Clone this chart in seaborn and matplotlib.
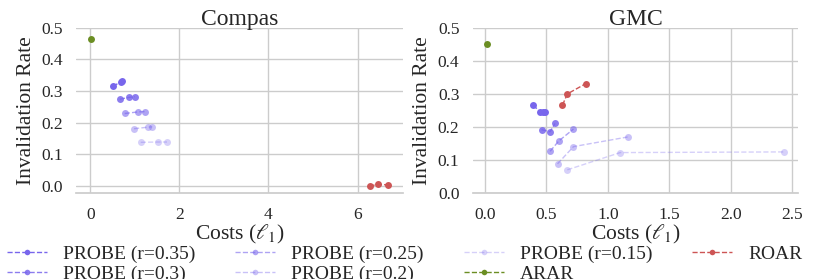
import numpy as np
import pandas as pd
import matplotlib
matplotlib.use("Agg")
import matplotlib.pyplot as plt
import seaborn as sns

# valores (custo l1, taxa de invalidação)
compas_probe_035_x = [0.50, 0.68, 0.72]
compas_probe_035_y = [0.316, 0.327, 0.332]
compas_probe_03_x = [0.66, 0.87, 1.00]
compas_probe_03_y = [0.274, 0.280, 0.282]
compas_probe_025_x = [0.77, 1.07, 1.23]
compas_probe_025_y = [0.229, 0.234, 0.235]
compas_probe_02_x = [0.98, 1.30, 1.39]
compas_probe_02_y = [0.181, 0.186, 0.187]
compas_probe_015_x = [1.13, 1.52, 1.72]
compas_probe_015_y = [0.138, 0.139, 0.139]
compas_roar_x = [6.27, 6.45, 6.68]
compas_roar_y = [0.000, 0.005, 0.004]
compas_arar_x = [0.01, 0.01, 0.01]
compas_arar_y = [0.462, 0.465, 0.467]

gmc_probe_035_x = [0.39, 0.45, 0.47, 0.49]
gmc_probe_035_y = [0.266, 0.246, 0.245, 0.244]
gmc_probe_03_x = [0.46, 0.53, 0.57]
gmc_probe_03_y = [0.192, 0.186, 0.211]
gmc_probe_025_x = [0.53, 0.60, 0.72]
gmc_probe_025_y = [0.127, 0.158, 0.194]
gmc_probe_02_x = [0.59, 0.72, 1.16]
gmc_probe_02_y = [0.089, 0.141, 0.170]
gmc_probe_015_x = [0.67, 1.10, 2.43]
gmc_probe_015_y = [0.071, 0.123, 0.125]
gmc_roar_x = [0.63, 0.67, 0.82]
gmc_roar_y = [0.266, 0.300, 0.331]
gmc_arar_x = [0.02, 0.02, 0.02, 0.02]
gmc_arar_y = [0.440, 0.448, 0.456, 0.463]

labels = ['PROBE (r=0.35)', 'PROBE (r=0.3)', 'PROBE (r=0.25)',
          'PROBE (r=0.2)', 'PROBE (r=0.15)', 'ARAR', 'ROAR']

probe_color = '#7866ec'
roar_color = '#cd5555'
arar_color = '#6b8e23'
probe_alphas = [1.0, 0.85, 0.6, 0.4, 0.3]

compas = [
    (compas_probe_035_x, compas_probe_035_y),
    (compas_probe_03_x, compas_probe_03_y),
    (compas_probe_025_x, compas_probe_025_y),
    (compas_probe_02_x, compas_probe_02_y),
    (compas_probe_015_x, compas_probe_015_y),
    (compas_arar_x, compas_arar_y),
    (compas_roar_x, compas_roar_y),
]
gmc = [
    (gmc_probe_035_x, gmc_probe_035_y),
    (gmc_probe_03_x, gmc_probe_03_y),
    (gmc_probe_025_x, gmc_probe_025_y),
    (gmc_probe_02_x, gmc_probe_02_y),
    (gmc_probe_015_x, gmc_probe_015_y),
    (gmc_arar_x, gmc_arar_y),
    (gmc_roar_x, gmc_roar_y),
]

sns.set_theme(style='whitegrid')
plt.rcParams['font.family'] = ['Liberation Serif', 'DejaVu Serif']
plt.rcParams['mathtext.fontset'] = 'stix'

fig = plt.figure(figsize=(8.31, 2.79), dpi=100)
ax1 = fig.add_axes([0.0915, 0.307, 0.393, 0.594])
ax2 = fig.add_axes([0.5688, 0.307, 0.392, 0.594])


def desenhar(ax, dados, titulo):
    for i, (xs, ys) in enumerate(dados):
        if i < 5:
            cor, alfa = probe_color, probe_alphas[i]
        elif labels[i] == 'ARAR':
            cor, alfa = arar_color, 1.0
        else:
            cor, alfa = roar_color, 1.0
        df = pd.DataFrame({'x': xs, 'y': ys})
        sns.lineplot(data=df, x='x', y='y', sort=False, ax=ax, color=cor,
                     alpha=alfa, linestyle='--', marker='o', markersize=5,
                     markeredgewidth=0, linewidth=1.0, label=labels[i],
                     legend=False)
    ax.set_title(titulo, fontsize=17, pad=2)
    ax.set_xlabel(r'Costs ($\ell_1$)', fontsize=15.5, labelpad=0)
    ax.set_ylabel('Invalidation Rate', fontsize=15.5, labelpad=4)
    ax.tick_params(labelsize=12.5, pad=3.5)
    ax.set_yticks([0.0, 0.1, 0.2, 0.3, 0.4, 0.5])
    sns.despine(ax=ax, left=True)


desenhar(ax1, compas, 'Compas')
ax1.set_xticks([0, 2, 4, 6])
ax1.set_ylim(-0.023, 0.5)

desenhar(ax2, gmc, 'GMC')
ax2.set_xticks([0.0, 0.5, 1.0, 1.5, 2.0, 2.5])
ax2.set_ylim(0.0, 0.5)

handles, labs = ax1.get_legend_handles_labels()
fig.legend(handles, labs, loc='upper left', bbox_to_anchor=(0.008, 0.122),
           ncol=4, frameon=False, fontsize=14, handlelength=2.06,
           columnspacing=2.06, handletextpad=0.82, labelspacing=0.12,
           borderaxespad=0, borderpad=0, markerscale=0.8)

fig.savefig('out.png', dpi=100)
